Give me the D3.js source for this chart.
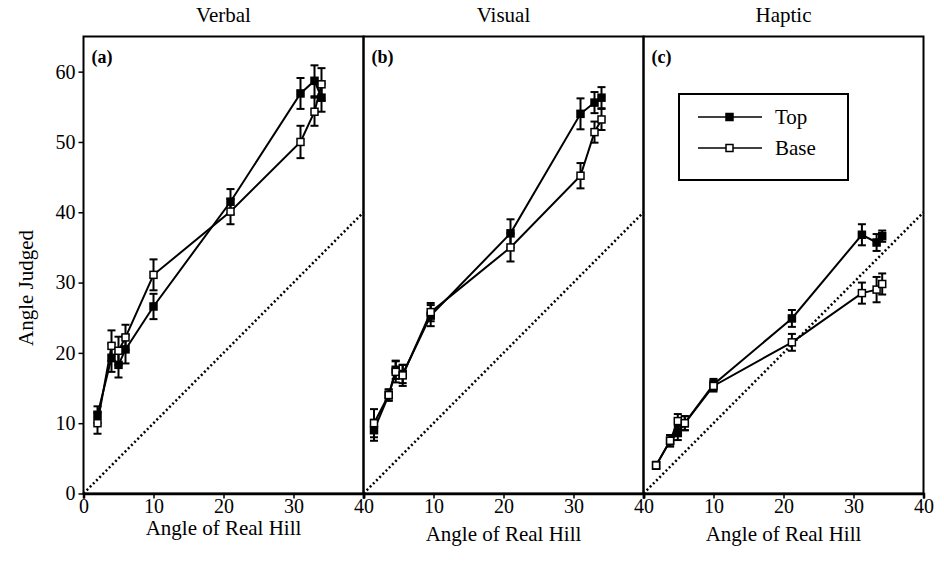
<!DOCTYPE html>
<html>
<head>
<meta charset="utf-8">
<script src="https://cdn.jsdelivr.net/npm/d3@7"></script>
<style>
  body { margin: 0; background: #fff; }
  svg { display: block; }
  text { font-family: "Liberation Serif", "Times New Roman", Times, serif; }
</style>
</head>
<body>
<svg id="chart" width="944" height="571"></svg>
<script>
// panel headings
var titles = ["Verbal", "Visual", "Haptic"];
var tags = ["(a)", "(b)", "(c)"];

// hill angles as plotted in each panel
var hillA = [2, 4, 5, 6, 10, 21, 31, 33, 34];
var hillB = [1.5, 3.6, 4.6, 5.6, 9.6, 21, 31, 33, 34];
var hillC = [1.8, 3.8, 4.9, 5.9, 10, 21.2, 31.2, 33.3, 34.1];

// judged angles, viewed from the top / from the base
var topA  = [11.2, 19.3, 18.3, 20.5, 26.6, 41.5, 56.9, 58.7, 56.3];
var baseA = [10.0, 21.0, 20.3, 22.2, 31.1, 40.1, 50.0, 54.3, 58.2];
var topB  = [9.0, 14.0, 17.6, 17.0, 25.3, 37.0, 54.0, 55.6, 56.3];
var baseB = [10.0, 14.0, 17.3, 16.8, 25.8, 35.0, 45.2, 51.4, 53.2];
var topC  = [4.0, 7.5, 8.6, 10.0, 15.5, 24.9, 36.8, 35.7, 36.6];
var baseC = [4.0, 7.5, 10.3, 10.0, 15.3, 21.5, 28.5, 29.0, 29.8];

// standard errors
var errTopA  = [1.2, 2.0, 1.8, 2.0, 1.8, 1.8, 2.2, 2.2, 2.0];
var errBaseA = [1.5, 2.2, 2.0, 1.8, 2.2, 1.8, 2.3, 2.0, 2.3];
var errTopB  = [1.5, 0.8, 1.3, 1.3, 1.5, 2.0, 2.2, 1.5, 1.5];
var errBaseB = [2.0, 0.8, 1.5, 1.5, 1.3, 2.0, 1.8, 1.5, 1.5];
var errTopC  = [0.5, 0.8, 1.0, 1.0, 0.8, 1.2, 1.5, 1.2, 0.8];
var errBaseC = [0.5, 0.8, 1.0, 1.0, 0.8, 1.2, 1.5, 1.8, 1.5];

var yTicks = [0, 10, 20, 30, 40, 50, 60];
var xTicks = [0, 10, 20, 30, 40];
var legendNames = ["Top", "Base"];

var panels = [
  {hill: hillA, top: topA, base: baseA, eTop: errTopA, eBase: errBaseA},
  {hill: hillB, top: topB, base: baseB, eTop: errTopB, eBase: errBaseB},
  {hill: hillC, top: topC, base: baseC, eTop: errTopC, eBase: errBaseC}
];

var serif = "Liberation Serif, Times New Roman, serif";
var svg = d3.select("#chart");
var left = 83.5, pw = 280, plotTop = 36.5, plotBottom = 493.5;

var y = d3.scaleLinear().domain([0, 65]).range([plotBottom, plotTop]);

panels.forEach(function(p, i) {
  var x0 = left + i * pw;
  var x = d3.scaleLinear().domain([0, 40]).range([x0, x0 + pw]);
  var g = svg.append("g");

  // frame
  g.append("rect")
    .attr("x", x0).attr("y", plotTop)
    .attr("width", pw).attr("height", plotBottom - plotTop)
    .attr("fill", "none").attr("stroke", "#000").attr("stroke-width", 2);

  // title
  svg.append("text")
    .attr("x", x0 + pw / 2).attr("y", 22)
    .attr("text-anchor", "middle").attr("font-size", 21).attr("font-family", serif)
    .text(titles[i]);

  // tag
  g.append("text")
    .attr("x", x0 + 8).attr("y", 63)
    .attr("font-size", 18).attr("font-weight", "bold").attr("font-family", serif)
    .text(tags[i]);

  // x axis
  var xa = g.append("g")
    .attr("transform", "translate(0," + plotBottom + ")")
    .call(d3.axisBottom(x).tickValues(i == 0 ? xTicks : xTicks.slice(1)).tickSize(5).tickPadding(0));
  xa.attr("font-family", serif);
  xa.select(".domain").attr("stroke-width", 2.5);
  xa.selectAll(".tick line").attr("stroke-width", 1.5);
  xa.selectAll("text").attr("font-size", 20);

  g.append("text")
    .attr("x", x0 + pw / 2).attr("y", i == 0 ? 535 : 541)
    .attr("text-anchor", "middle").attr("font-size", 21).attr("font-family", serif)
    .text("Angle of Real Hill");

  // y axis on first panel
  if (i == 0) {
    var ya = g.append("g")
      .attr("transform", "translate(" + x0 + ",0)")
      .call(d3.axisLeft(y).tickValues(yTicks).tickSize(5).tickPadding(3));
    ya.attr("font-family", serif);
    ya.select(".domain").remove();
    ya.selectAll(".tick line").attr("stroke-width", 1.5);
    ya.selectAll("text").attr("font-size", 20);
  }

  // identity line
  g.append("line")
    .attr("x1", x(0)).attr("y1", y(0))
    .attr("x2", x(40)).attr("y2", y(40))
    .attr("stroke", "#000").attr("stroke-width", 2.5)
    .attr("stroke-dasharray", "2,2.5");

  var line = d3.line().x(function(d) { return x(d[0]); }).y(function(d) { return y(d[1]); });

  [["top", "eTop", "#000"], ["base", "eBase", "#fff"]].forEach(function(s) {
    var pts = p.hill.map(function(h, k) { return [h, p[s[0]][k], p[s[1]][k]]; });

    g.append("path").datum(pts)
      .attr("d", line).attr("fill", "none")
      .attr("stroke", "#000").attr("stroke-width", 2);

    var eb = g.append("g").selectAll("g").data(pts).enter().append("g");
    eb.append("line")
      .attr("x1", function(d) { return x(d[0]); }).attr("x2", function(d) { return x(d[0]); })
      .attr("y1", function(d) { return y(d[1] - d[2]); }).attr("y2", function(d) { return y(d[1] + d[2]); })
      .attr("stroke", "#000").attr("stroke-width", 2);
    [1, -1].forEach(function(sg) {
      eb.append("line")
        .attr("x1", function(d) { return x(d[0]) - 4; }).attr("x2", function(d) { return x(d[0]) + 4; })
        .attr("y1", function(d) { return y(d[1] + sg * d[2]); }).attr("y2", function(d) { return y(d[1] + sg * d[2]); })
        .attr("stroke", "#000").attr("stroke-width", 2);
    });

    g.append("g").selectAll("rect").data(pts).enter().append("rect")
      .attr("x", function(d) { return x(d[0]) - 3.5; })
      .attr("y", function(d) { return y(d[1]) - 3.5; })
      .attr("width", 7).attr("height", 7)
      .attr("fill", s[2]).attr("stroke", "#000").attr("stroke-width", 1.5);
  });
});

// y label
svg.append("text")
  .attr("transform", "translate(33,288) rotate(-90)")
  .attr("text-anchor", "middle").attr("font-size", 21).attr("font-family", serif)
  .text("Angle Judged");

// legend in panel c
var lg = svg.append("g");
lg.append("rect")
  .attr("x", 679).attr("y", 94).attr("width", 169).attr("height", 86)
  .attr("fill", "#fff").attr("stroke", "#000").attr("stroke-width", 2);
legendNames.forEach(function(name, k) {
  var ly = 117 + k * 31;
  lg.append("line")
    .attr("x1", 698).attr("x2", 762).attr("y1", ly).attr("y2", ly)
    .attr("stroke", "#000").attr("stroke-width", 1.5);
  lg.append("rect")
    .attr("x", 726).attr("y", ly - 3.5).attr("width", 7).attr("height", 7)
    .attr("fill", k == 0 ? "#000" : "#fff").attr("stroke", "#000").attr("stroke-width", 1.5);
  lg.append("text")
    .attr("x", 775).attr("y", ly + 7).attr("font-size", 21).attr("font-family", serif)
    .text(name);
});
</script>
</body>
</html>
